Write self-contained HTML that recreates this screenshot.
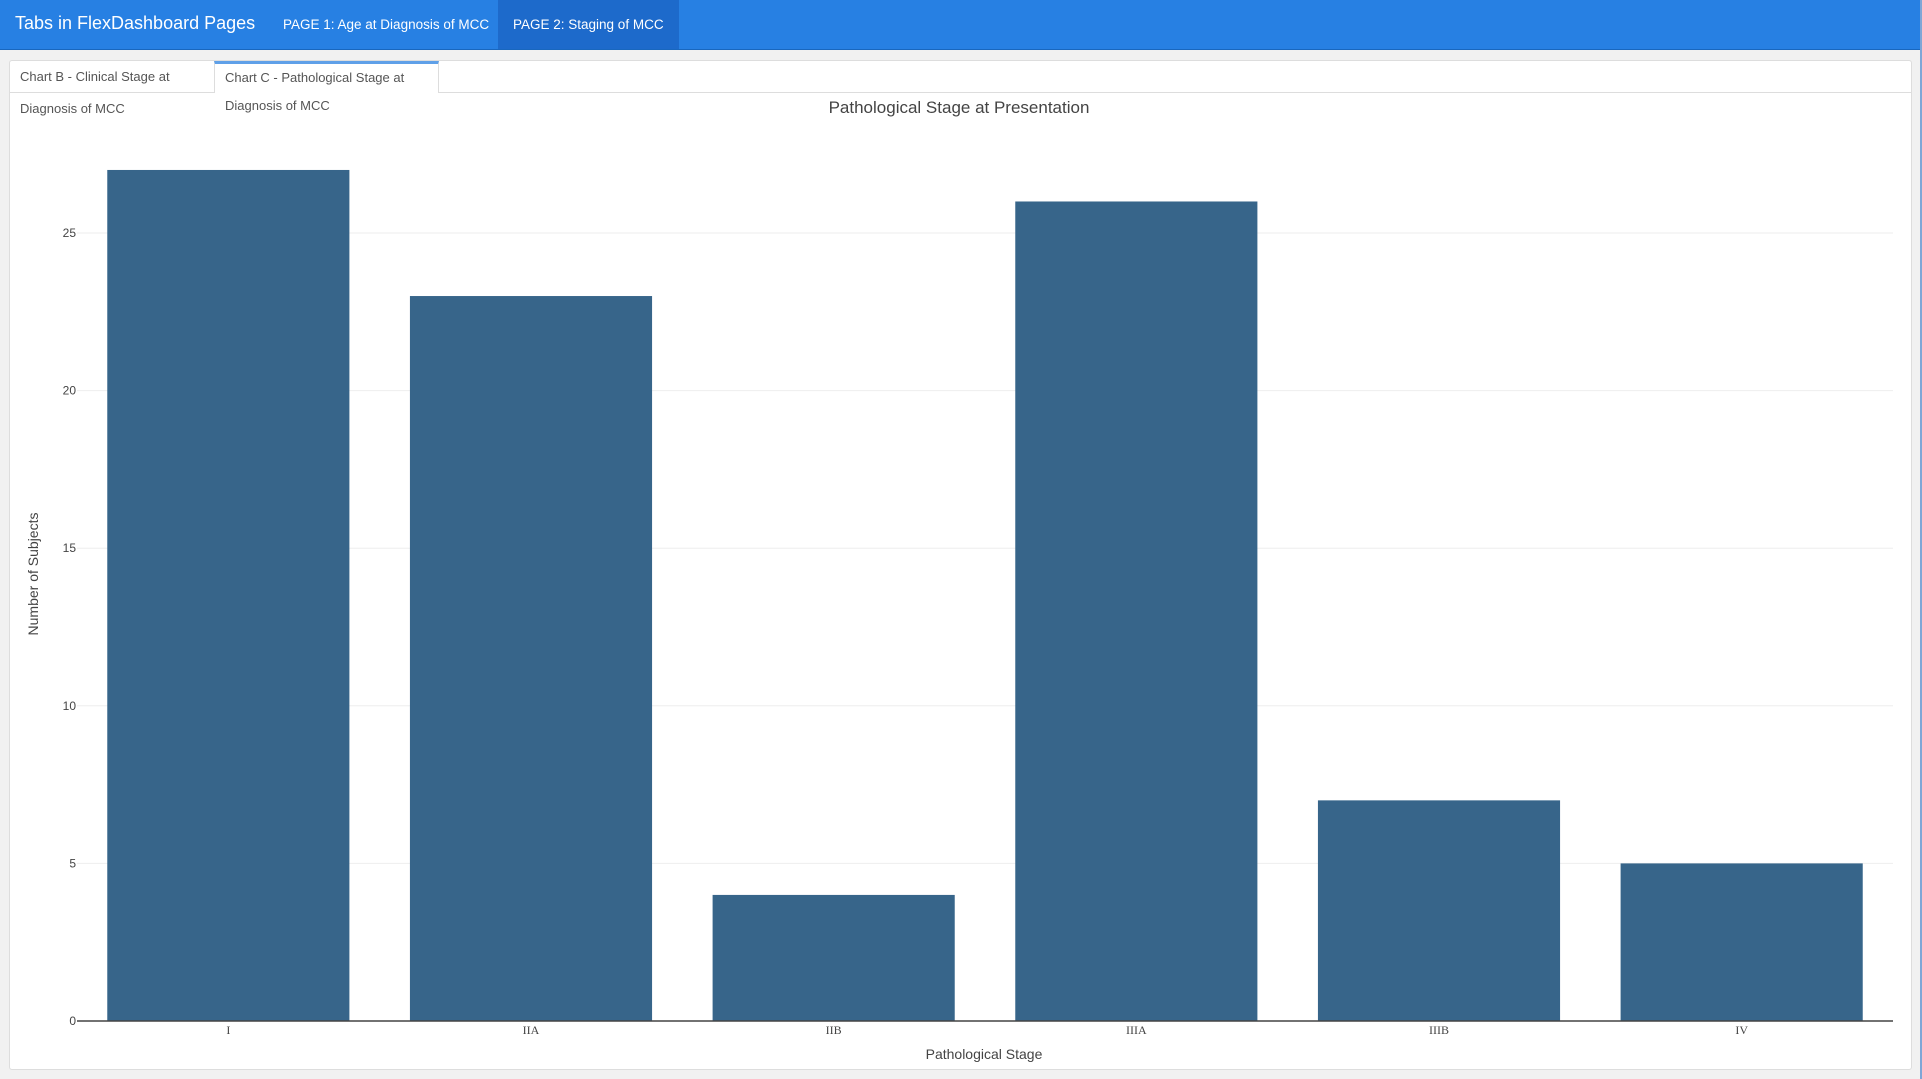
<!DOCTYPE html>
<html><head><meta charset="utf-8"><style>
body{margin:0;width:1922px;height:1079px;background:#f1f1f1;font-family:"Liberation Sans",sans-serif;overflow:hidden;position:relative}
#nav{position:absolute;left:0;top:0;width:1920px;height:49px;background:#2780e3;border-bottom:1px solid #1967be}
#nav .t{position:absolute;left:15px;top:13px;color:#fff;font-size:18px}
#nav .p{position:absolute;top:0;height:49px;line-height:49px;color:#fff;font-size:13.5px;padding:0 15px}
#panel{position:absolute;left:9px;top:60px;width:1901px;height:1008px;background:#fff;border:1px solid #ddd;border-radius:3px}
.tab{position:absolute;top:0;height:31px;line-height:32px;font-size:13px;color:#555;padding:0 10px;box-sizing:border-box}
</style></head><body>
<div id="nav">
<span class="t">Tabs in FlexDashboard Pages</span>
<span class="p" style="left:268px">PAGE 1: Age at Diagnosis of MCC</span>
<span class="p" style="left:498px;background:#1d6acb">PAGE 2: Staging of MCC</span>
</div>
<div style="position:absolute;left:1920px;top:0;width:2px;height:1079px;background:#7fa6d6"></div>
<div id="panel">
<div style="position:absolute;left:0;top:31px;width:1901px;height:1px;background:#ddd"></div>
<div class="tab" style="left:0;width:205px;border-right:1px solid #ddd">Chart B - Clinical Stage at Diagnosis of MCC</div>
<div class="tab" style="left:204px;width:225px;height:32px;background:#fff;border-top:3px solid #5fa0e8;border-right:1px solid #ddd;border-left:1px solid #ddd;line-height:28px">Chart C - Pathological Stage at Diagnosis of MCC</div>
</div>
<svg id="chart" width="1922" height="1079" style="position:absolute;left:0;top:0"></svg>
<script>
const categories=["I","IIA","IIB","IIIA","IIIB","IV"];
const values=[27,23,4,26,7,5];
const yTicks=[0,5,10,15,20,25];
const svg=document.getElementById('chart');const NS='http://www.w3.org/2000/svg';
const X0=77,X1=1893,Y0=1021,YT=233,yMaxRef=25;
const y=v=>Y0-(Y0-YT)*v/yMaxRef;
const band=(X1-X0)/categories.length;
const xc=i=>X0+band*(i+0.5);
function mk(t,a,txt){const e=document.createElementNS(NS,t);for(const k in a)e.setAttribute(k,a[k]);if(txt!=null)e.textContent=txt;svg.appendChild(e);return e;}
yTicks.forEach(v=>{
 if(v>0){const g=mk('line',{x1:X0,x2:X1,y1:y(v),y2:y(v),stroke:'#eee','stroke-width':1});
 
 }
 const t=mk('text',{x:76,y:y(v)+4,'text-anchor':'end','font-size':12,fill:'#444'},v);
 
 
});
categories.forEach((c,i)=>{
 const w=band*0.8;
 const r=mk('rect',{x:xc(i)-w/2,y:y(values[i]),width:w,height:Y0-y(values[i]),fill:'#37658a'});
 
 
 const t=mk('text',{x:xc(i),y:1034,'text-anchor':'middle','font-size':12,fill:'#444','font-family':'Liberation Serif, serif'},c);
 
 
});
const ax=mk('line',{x1:X0,x2:X1,y1:Y0,y2:Y0,stroke:'#444','stroke-width':1.5});


const ti=mk('text',{x:959,y:113,'text-anchor':'middle','font-size':17,fill:'#444'},'Pathological Stage at Presentation');


const xt=mk('text',{x:984,y:1059,'text-anchor':'middle','font-size':14,fill:'#444'},'Pathological Stage');


const yt=mk('text',{x:38,y:574,'text-anchor':'middle','font-size':14,fill:'#444',transform:'rotate(-90 38 574)'},'Number of Subjects');


</script>
</body></html>
